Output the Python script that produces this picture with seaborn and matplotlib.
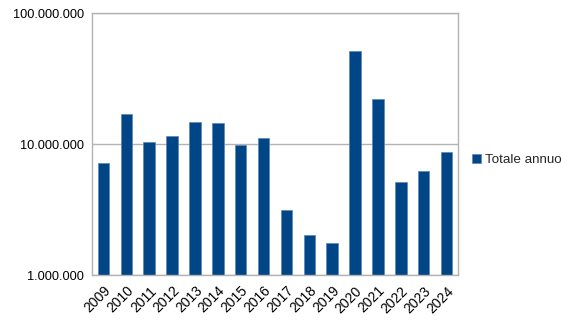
import numpy as np
import pandas as pd
import matplotlib
matplotlib.use("Agg")
import matplotlib.pyplot as plt
import seaborn as sns
from matplotlib.ticker import FuncFormatter, FixedLocator, NullLocator

years = ["2009", "2010", "2011", "2012", "2013", "2014", "2015", "2016",
         "2017", "2018", "2019", "2020", "2021", "2022", "2023", "2024"]
totale_annuo = [7.16e6, 16.9e6, 10.5e6, 11.5e6, 14.8e6, 14.6e6, 9.8e6, 11.2e6,
                3.15e6, 2.04e6, 1.75e6, 51.3e6, 22.1e6, 5.13e6, 6.29e6, 8.69e6]
series_name = "Totale annuo"

df = pd.DataFrame({"Anno": years, "Valore": totale_annuo, "Serie": series_name})

sns.set_theme(style="white")
plt.rcParams["font.family"] = ["Liberation Sans", "DejaVu Sans"]

fig = plt.figure(figsize=(5.73, 3.22), dpi=100)
ax = fig.add_axes([92 / 573, 1 - 275.3 / 322, (458 - 92) / 573, (275.3 - 13.3) / 322])

color = "#004586"
sns.barplot(data=df, x="Anno", y="Valore", hue="Serie", palette=[color],
            width=0.5, ax=ax, saturation=1, edgecolor="#5a86b8", linewidth=0.5)

ax.set_yscale("log")
ax.set_ylim(1e6, 1e8)
ax.set_xlim(-0.5, len(years) - 0.5)

ax.yaxis.set_major_locator(FixedLocator([1e6, 1e7, 1e8]))
ax.yaxis.set_minor_locator(NullLocator())
ax.yaxis.set_major_formatter(FuncFormatter(lambda v, p: f"{int(round(v)):,}".replace(",", ".")))
ax.grid(axis="y", color="#b3b3b3", linewidth=1)
ax.set_axisbelow(True)

ax.set_xticks(range(len(years)))
ax.set_xticklabels(years, rotation=45, ha="right", rotation_mode="anchor")
ax.set_xticks(np.arange(-0.5, len(years), 1), minor=True)
ax.tick_params(axis="x", which="major", length=0, pad=6, labelsize=10, colors="black")
ax.tick_params(axis="x", which="minor", length=4, color="#b3b3b3", width=1, direction="out")
ax.tick_params(axis="y", which="major", length=4, color="#b3b3b3", width=1, direction="out",
               labelsize=9.2, pad=2)
for lbl in ax.get_xticklabels() + ax.get_yticklabels():
    lbl.set_color("black")

for s in ax.spines.values():
    s.set_color("#b3b3b3")
    s.set_linewidth(1)

ax.set_xlabel("")
ax.set_ylabel("")

handles, labels = ax.get_legend_handles_labels()
ax.legend(handles, labels, loc="center left", bbox_to_anchor=(472 / 573, 1 - 160 / 322),
          bbox_transform=fig.transFigure, frameon=False, fontsize=9.6,
          handlelength=0.65, handleheight=0.65, handletextpad=0.3, borderaxespad=0,
          borderpad=0)

fig.savefig("out.png", dpi=100)
